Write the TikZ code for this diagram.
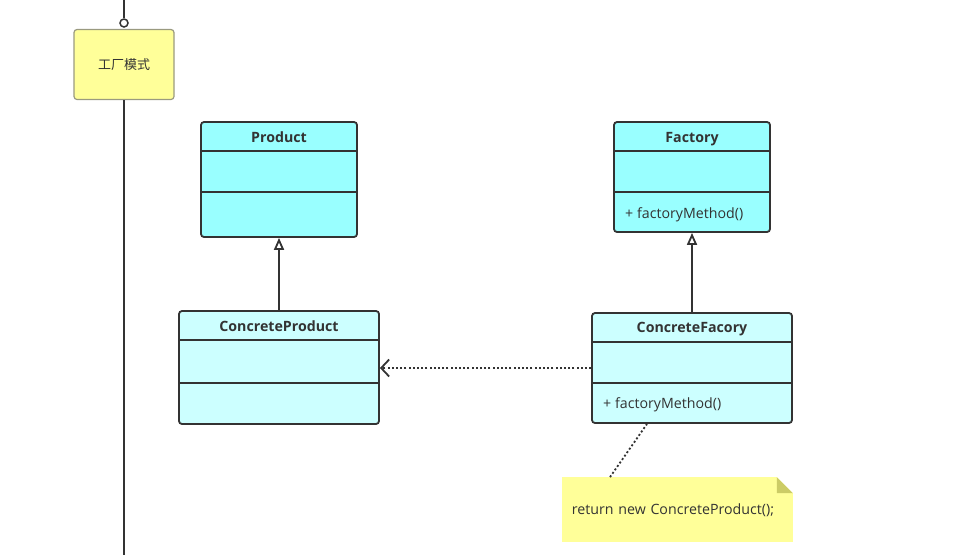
\documentclass[tikz,border=0pt]{standalone}
\usepackage{fontspec}
\setmainfont{Open Sans}
\newfontfamily\cjk{Noto Sans CJK SC}
\usepackage{tikz}
\usetikzlibrary{arrows.meta,backgrounds}
\definecolor{linec}{HTML}{333333}
\definecolor{clsA}{HTML}{99FFFF}
\definecolor{clsB}{HTML}{CCFFFF}
\definecolor{noteY}{HTML}{FFFF99}
\definecolor{foldY}{HTML}{CCCC66}
\definecolor{boxedge}{HTML}{9A9A80}

\begin{document}
\begin{tikzpicture}[x=1pt, y=-1pt, line width=1.8pt, color=linec, font=\fontsize{14.2}{17}\selectfont,
	cls/.style={draw, rounded corners=3pt, inner sep=0pt},
	title/.style={font=\fontsize{14.2}{17}\selectfont\bfseries, text height=10pt, text depth=0pt},
	member/.style={anchor=west, text height=10pt, text depth=0pt},
	lifebox/.style={draw=boxedge, line width=1.2pt, fill=noteY, rounded corners=3pt, minimum width=100pt, minimum height=70pt, font=\fontsize{13}{16}\cjk},
	lifedot/.style={circle, draw, fill=white, line width=1.5pt, inner sep=0pt, minimum size=8pt},
	inherit/.style={line width=1.8pt, -{Triangle[open, length=12pt, width=10pt]}},
	depend/.style={line width=1.8pt, dash pattern=on 2pt off 2.2pt, -{Straight Barb[length=8pt, width=17pt]}},
	link/.style={line width=1.8pt, dash pattern=on 2pt off 2.2pt}]
		\useasboundingbox (0,0) rectangle (979,555);
		\coordinate (top) at (124,0);
		\coordinate (bottom) at (124,555);
		\node[lifebox] (mode) at (124,64.5) {工厂模式};
		\node[lifedot] (dot) at (124,23) {};
		\draw (top) -- (dot);
		\draw (mode) -- (bottom);

		\node[cls, fill=clsA, minimum width=156pt, minimum height=115pt] (Product) at (279,179.5) {};
		\node[title] (ProductT) at (279,137.5) {Product};
		\draw ([yshift=-30pt]Product.north west) -- ([yshift=-30pt]Product.north east);
		\draw ([yshift=-71pt]Product.north west) -- ([yshift=-71pt]Product.north east);

		\node[cls, fill=clsA, minimum width=156pt, minimum height=110pt] (Factory) at (692,177) {};
		\node[title] (FactoryT) at (692,137.5) {Factory};
		\draw ([yshift=-30pt]Factory.north west) -- ([yshift=-30pt]Factory.north east);
		\draw ([yshift=-71pt]Factory.north west) -- ([yshift=-71pt]Factory.north east);
		\node[member] (FactoryM) at (621,213) {+ factoryMethod()};

		\node[cls, fill=clsB, minimum width=200pt, minimum height=113pt] (ConcreteProduct) at (279,367.5) {};
		\node[title] (ConcreteProductT) at (279,326.5) {ConcreteProduct};
		\draw ([yshift=-30pt]ConcreteProduct.north west) -- ([yshift=-30pt]ConcreteProduct.north east);
		\draw ([yshift=-73pt]ConcreteProduct.north west) -- ([yshift=-73pt]ConcreteProduct.north east);

		\node[cls, fill=clsB, minimum width=200pt, minimum height=110pt] (ConcreteFacory) at (692,368) {};
		\node[title] (ConcreteFacoryT) at (692,327.5) {ConcreteFacory};
		\draw ([yshift=-30pt]ConcreteFacory.north west) -- ([yshift=-30pt]ConcreteFacory.north east);
		\draw ([yshift=-71pt]ConcreteFacory.north west) -- ([yshift=-71pt]ConcreteFacory.north east);
		\node[member] (ConcreteFacoryM) at (599,403) {+ factoryMethod()};

		\node[member, minimum height=63pt, text width=211pt, inner xsep=9pt, align=left] (note) at (562,509.5) {return new ConcreteProduct();};

		\draw[inherit] (ConcreteProduct) -- (Product);
		\draw[inherit] (ConcreteFacory) -- (Factory);
		\draw[depend] (ConcreteFacory.west) -- (ConcreteProduct.east |- ConcreteFacory.west);
		\draw[link] ([xshift=48pt]note.north west) -- ([xshift=-45pt]ConcreteFacory.south);

		\begin{pgfonlayer}{background}
			\fill[noteY] (note.south west) -- (note.north west) -- ([xshift=-16pt]note.north east) -- ([yshift=-16pt]note.north east) -- (note.south east) -- cycle;
			\fill[foldY] ([xshift=-16pt]note.north east) -- ([yshift=-16pt]note.north east) -- ([shift={(-16pt,-16pt)}]note.north east) -- cycle;
		\end{pgfonlayer}
	\end{tikzpicture}
\end{document}
